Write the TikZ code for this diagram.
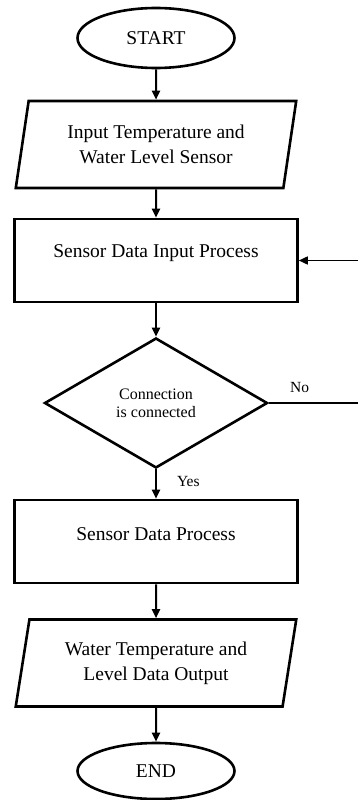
\documentclass[tikz,border=0pt]{standalone}
\usepackage{fontspec}
\setmainfont{Liberation Serif}
\usetikzlibrary{shapes.geometric,arrows.meta}

\begin{document}
\begin{tikzpicture}[x=1pt,y=1pt,
    term/.style = {draw, ellipse, line width=2.6pt, minimum width=157pt, inner sep=0pt},
    io/.style = {draw, trapezium, trapezium left angle=77, trapezium right angle=103,
                 trapezium stretches=true, line width=2.6pt, minimum width=281pt,
                 minimum height=87pt, align=center, inner sep=0pt},
    proc/.style = {draw, rectangle, line width=2.6pt, minimum width=283pt,
                   minimum height=83pt, inner sep=0pt},
    decide/.style = {draw, diamond, line width=2.6pt, minimum width=223pt,
                     minimum height=130pt, inner sep=0pt, align=center,
                     font=\fontsize{16}{18}\selectfont},
    flow/.style = {line width=2pt, -{Triangle[width=8pt,length=9pt]}},
    tag/.style = {inner sep=0pt, font=\fontsize{15.5}{18}\selectfont},
    font=\fontsize{19.5}{25}\selectfont]
    \useasboundingbox (0,0) rectangle (357,-800);
    \node[term, minimum height=60pt] (start) at (156,-38) {START};
    \node[io] (input) at (156,-144.5) {Input Temperature and\\Water Level Sensor};
    \node[proc] (readproc) at (156,-260.5)
      {\raisebox{0pt}[\height][\dimexpr\depth+15pt]{Sensor Data Input Process}};
    \node[decide] (check) at (156,-403) {Connection\\is connected};
    \node[proc] (dataproc) at (156,-541.5)
      {\raisebox{0pt}[\height][\dimexpr\depth+15pt]{Sensor Data Process}};
    \node[io] (output) at (156,-663) {Water Temperature and\\Level Data Output};
    \node[term, minimum height=56pt] (stop) at (156,-771) {END};
    \coordinate (loop) at (362,-403);
      %
    \draw[flow] (start) -- (input);
    \draw[flow] (input) -- (readproc);
    \draw[flow] (readproc) -- (check);
    \draw[flow] (check) -- node[tag, pos=0.4, right=20pt] {Yes} (dataproc);
    \draw[flow] (dataproc) -- (output);
    \draw[flow] (output) -- (stop);
    \draw[flow, line width=1.6pt] (check.east) -- node[tag, pos=0.33, above=10pt] {No} (loop)
      |- (readproc.east);
  \end{tikzpicture}
\end{document}
